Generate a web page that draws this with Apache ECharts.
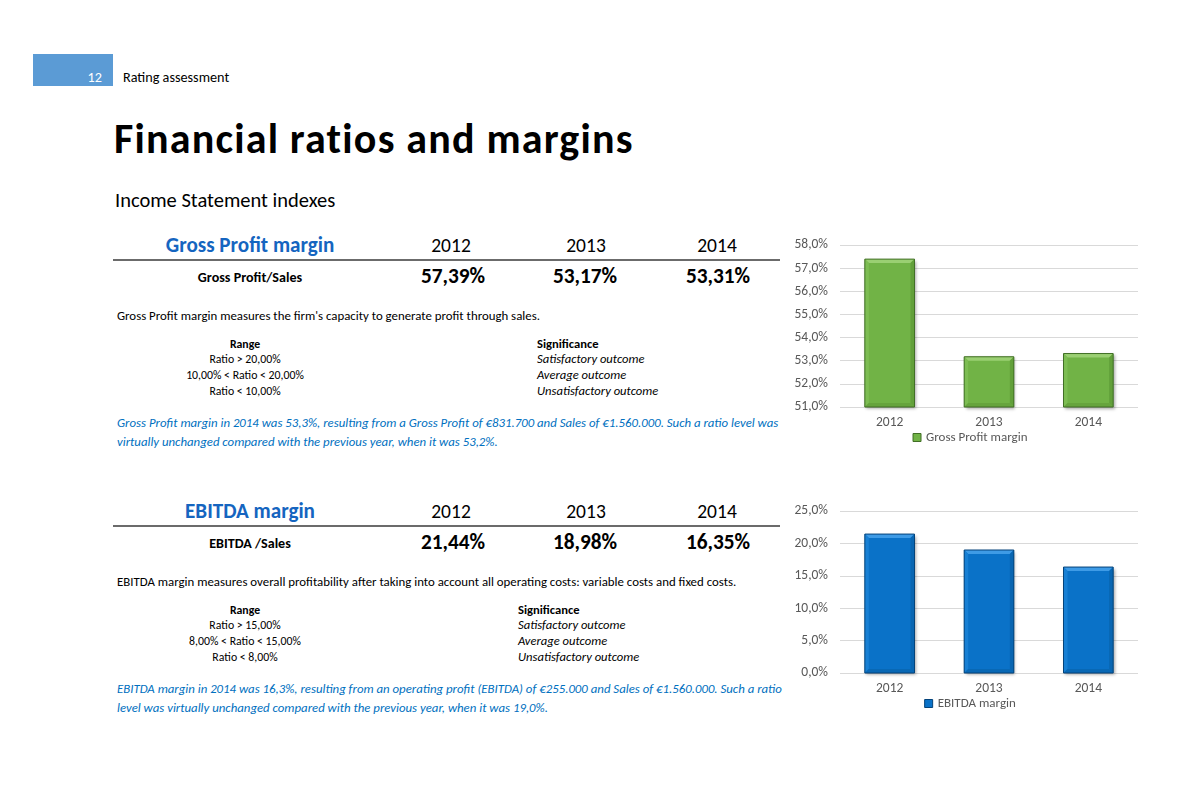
<!DOCTYPE html>
<html><head><meta charset="utf-8">
<script src="https://cdn.jsdelivr.net/npm/echarts@6/dist/echarts.min.js"></script>
<style>
html,body{margin:0;padding:0;background:#fff;}
body{width:1193px;height:800px;position:relative;overflow:hidden;font-family:Carlito,Calibri,Lato,"Noto Sans",sans-serif;color:#000;}
.a{position:absolute;white-space:nowrap;line-height:1;}
.c{transform:translateX(-50%);text-align:center;}
.box{left:33px;top:54px;width:80px;height:32px;background:#5B9BD5;}
.pg{left:80px;width:22px;text-align:right;color:#fff;font-size:14.2px;}
.sec{left:123px;font-size:14.2px;}
.title{left:114px;font-size:42px;font-weight:bold;letter-spacing:1.2px;}
.sub{left:115px;font-size:20.5px;}
.hdr{font-size:21.1px;font-weight:bold;color:#1565C0;}
.yr{font-size:19.5px;}
.rule{left:113px;width:667px;height:2px;background:#6b6b6b;}
.rl{font-size:14.1px;font-weight:bold;}
.val{font-size:21.3px;font-weight:bold;}
.desc{left:117px;font-size:12.85px;}
.t{font-size:11.8px;line-height:15.6px;}
.t2{font-size:12.6px;line-height:15.6px;}
.it{font-style:italic;}
.note{left:117px;font-size:12.8px;font-style:italic;color:#0070C0;line-height:19px;}
.ch{position:absolute;}
</style></head>
<body>
<div class="a box"></div>
<div class="a pg" data-bl="81.5">12</div>
<div class="a sec" data-bl="81.5">Rating assessment</div>
<div class="a title" data-bl="152.5">Financial ratios and margins</div>
<div class="a sub" data-bl="206.5">Income Statement indexes</div>

<div id="tables"></div>

<div id="c1" class="ch" style="left:780px;top:232px;width:380px;height:220px;"></div>
<div id="c2" class="ch" style="left:780px;top:498px;width:380px;height:220px;"></div>

<script>
// ---------- data ----------
const years = ['2012','2013','2014'];
const grossMargin = [57.39, 53.17, 53.31];
const ebitdaMargin = [21.44, 18.98, 16.35];
const grossTicks = [51, 58, 1];   // min, max, interval
const ebitdaTicks = [0, 25, 5];
const grossName = 'Gross Profit margin';
const ebitdaName = 'EBITDA margin';

const grossText = {
  title: 'Gross Profit margin', row: 'Gross Profit/Sales',
  desc: "Gross Profit margin measures the firm's capacity to generate profit through sales.",
  ranges: ['Ratio > 20,00%', '10,00% < Ratio < 20,00%', 'Ratio < 10,00%'],
  sig: ['Satisfactory outcome', 'Average outcome', 'Unsatisfactory outcome'],
  note: ['Gross Profit margin in 2014 was 53,3%, resulting from a Gross Profit of €831.700 and Sales of €1.560.000. Such a ratio level was',
         'virtually unchanged compared with the previous year, when it was 53,2%.']
};
const ebitdaText = {
  title: 'EBITDA margin', row: 'EBITDA /Sales',
  desc: 'EBITDA margin measures overall profitability after taking into account all operating costs: variable costs and fixed costs.',
  ranges: ['Ratio > 15,00%', '8,00% < Ratio < 15,00%', 'Ratio < 8,00%'],
  sig: ['Satisfactory outcome', 'Average outcome', 'Unsatisfactory outcome'],
  note: ['EBITDA margin in 2014 was 16,3%, resulting from an operating profit (EBITDA) of €255.000 and Sales of €1.560.000. Such a ratio',
         'level was virtually unchanged compared with the previous year, when it was 19,0%.']
};

// ---------- layout of text blocks (baseline positions) ----------
function pct2(v){ return v.toFixed(2).replace('.', ',') + '%'; }
function block(txt, vals, dy, sigX){
  const yc = [451, 586, 717];
  const vc = [453, 585, 718];
  let h = '';
  h += `<div class="a c hdr" style="left:250px" data-bl="${252+dy}">${txt.title}</div>`;
  years.forEach((y,i)=>{ h += `<div class="a c yr" style="left:${yc[i]}px" data-bl="${252+dy}">${y}</div>`; });
  h += `<div class="a rule" style="top:${259+dy}px"></div>`;
  h += `<div class="a c rl" style="left:250px" data-bl="${282+dy}">${txt.row}</div>`;
  vals.forEach((v,i)=>{ h += `<div class="a c val" style="left:${vc[i]}px" data-bl="${283+dy}">${pct2(v)}</div>`; });
  h += `<div class="a desc" data-bl="${320+dy}">${txt.desc}</div>`;
  h += `<div class="a c t" style="left:245px" data-bl="${347.8+dy}"><b>Range</b><br>${txt.ranges.join('<br>')}</div>`;
  h += `<div class="a t2" style="left:${sigX}px" data-bl="${347.8+dy}"><b>Significance</b><br><span class="it">${txt.sig.join('<br>')}</span></div>`;
  h += `<div class="a note" data-bl="${427+dy}">${txt.note.join('<br>')}</div>`;
  return h;
}
document.getElementById('tables').innerHTML =
  block(grossText, grossMargin, 0, 537) + block(ebitdaText, ebitdaMargin, 266, 518);

function placeAll(){
  document.querySelectorAll('[data-bl]').forEach(el=>{
    let m = el.querySelector(':scope > .bm');
    if(!m){ m = document.createElement('span'); m.className='bm';
      m.style.cssText='display:inline-block;width:0;height:0;vertical-align:baseline';
      el.insertBefore(m, el.firstChild); }
    el.style.top = '0px';
    const off = m.offsetTop;
    el.style.top = (parseFloat(el.dataset.bl) - off) + 'px';
  });
}
placeAll();
if(document.fonts && document.fonts.ready) document.fonts.ready.then(placeAll);

// ---------- charts ----------
function fmt1(v){ return v.toFixed(1).replace('.', ',') + '%'; }
// bevelled bar drawn through the axis scales
function bevelBar(pal, base){
  return function(params, api){
    const i = api.value(0), v = api.value(1);
    const top = api.coord([i, v]);
    const bot = api.coord([i, base]);
    const w = api.size([1, 0])[0] * 0.5;
    const x0 = top[0] - w/2, x1 = top[0] + w/2, y0 = top[1], y1 = bot[1];
    const b = Math.min(4, (y1 - y0)/2);
    const poly = (pts, fill) => ({type:'polygon', shape:{points:pts}, style:{fill:fill}});
    return {type:'group', children:[
      {type:'rect', shape:{x:x0, y:y0, width:w, height:y1-y0},
        style:{fill:pal.face, shadowBlur:3, shadowColor:'rgba(0,0,0,0.35)', shadowOffsetX:1.5, shadowOffsetY:1.5}},
      poly([[x0,y0],[x1,y0],[x1-b,y0+b],[x0+b,y0+b]], pal.top),
      poly([[x0,y0],[x0+b,y0+b],[x0+b,y1-b],[x0,y1]], pal.left),
      poly([[x1,y0],[x1,y1],[x1-b,y1-b],[x1-b,y0+b]], pal.right),
      poly([[x0,y1],[x0+b,y1-b],[x1-b,y1-b],[x1,y1]], pal.bottom),
      {type:'rect', shape:{x:x0, y:y0, width:w, height:y1-y0},
        style:{fill:null, stroke:pal.line, lineWidth:1}}
    ]};
  };
}
function chart(el, name, data, ticks, pal){
  const ch = echarts.init(document.getElementById(el), null, {renderer:'canvas'});
  ch.setOption({
    animation:false,
    textStyle:{fontFamily:'Carlito, Calibri, Lato, sans-serif'},
    grid:{left:60, top:13, width:298, height:162},
    legend:{data:[name], bottom:3, left:'center', itemWidth:8, itemHeight:8, itemGap:4,
      textStyle:{color:'#595959', fontSize:13}, icon:'rect',
      itemStyle:{color:pal.face, borderColor:pal.line, borderWidth:1}},
    xAxis:{type:'category', data:years,
      axisLine:{show:false}, axisTick:{show:false},
      axisLabel:{color:'#595959', fontSize:13.5, margin:9}},
    yAxis:{type:'value', min:ticks[0], max:ticks[1], interval:ticks[2],
      axisLine:{show:false}, axisTick:{show:false},
      splitLine:{lineStyle:{color:'#d9d9d9', width:1}},
      axisLabel:{color:'#595959', fontSize:13.5, margin:12, formatter:fmt1}},
    series:[{type:'custom', name:name,
      data:data.map((v,i)=>[i, v]),
      encode:{x:0, y:1},
      itemStyle:{color:pal.face},
      renderItem:bevelBar(pal, ticks[0])
    }]
  });
}
const greenPal = {face:'#71B346', top:'#9ACF72', left:'#7DBD53', right:'#62A03A', bottom:'#66A43D', line:'#416F26'};
const bluePal  = {face:'#0A72C8', top:'#3E9BE6', left:'#1880D4', right:'#0966B2', bottom:'#0868B5', line:'#04437A'};
chart('c1', grossName, grossMargin, grossTicks, greenPal);
chart('c2', ebitdaName, ebitdaMargin, ebitdaTicks, bluePal);
</script>
</body></html>
